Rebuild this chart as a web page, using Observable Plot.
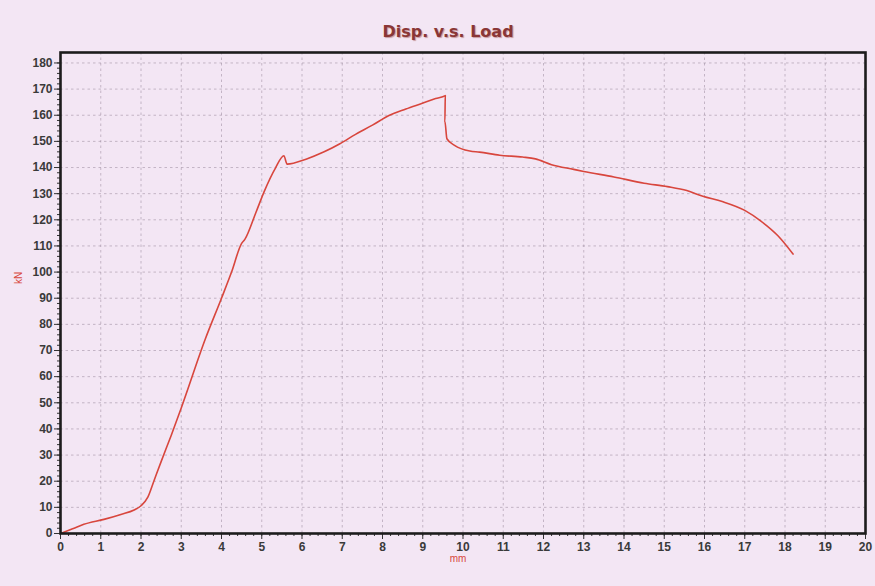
<!DOCTYPE html>
<html>
<head>
<meta charset="utf-8">
<script src="https://cdn.jsdelivr.net/npm/d3@7"></script>
<script src="https://cdn.jsdelivr.net/npm/@observablehq/plot@0.6"></script>
<style>
  html, body { margin: 0; padding: 0; background: #f3e6f4; }
  #wrap { width: 875px; height: 586px; overflow: hidden; background: #f3e6f4; }
  #title { position: relative; height: 46px; }
  #title span {
    position: absolute; left: 448px; top: 22px; transform: translateX(-50%);
    font-family: "DejaVu Sans", sans-serif; font-weight: bold; font-size: 16px;
    color: #8a3636; text-shadow: 1px 1px 1px #c79a9e; white-space: nowrap;
  }
</style>
</head>
<body>
<div id="wrap">
  <div id="title"><span>Disp. v.s. Load</span></div>
  <div id="chart"></div>
</div>
<script>
// Displacement (mm) and load (kN)
const dispMm = [0, 0.3, 0.58, 1.08, 1.5, 1.83, 2.0, 2.17, 2.33, 2.5, 2.75, 3.0, 3.6, 4.0, 4.25, 4.5, 4.58, 4.86, 5.06, 5.34, 5.55, 5.63,
  6.1, 6.55, 6.93, 7.33, 7.75, 8.16, 8.58, 8.99, 9.32, 9.56, 9.55, 9.6, 9.79, 10.17, 10.41, 10.91, 11.48, 11.8, 12.2, 12.75, 13.0,
  13.75, 14.5, 15.08, 15.56, 15.96, 16.44, 17.0, 17.41, 17.83, 18.2];
const loadKN = [0, 1.8, 3.5, 5.4, 7.3, 9.0, 10.6, 13.9, 20.5, 27.5, 37.5, 48.0, 74.5, 90.0, 100.0, 111.0, 112.5, 123.0, 130.8, 139.8, 144.5, 141.3,
  143.2, 146.0, 149.0, 152.7, 156.2, 159.9, 162.4, 164.6, 166.4, 167.5, 157.6, 151.0, 148.5, 146.3, 145.9, 144.7, 144.0, 143.3, 141.1, 139.3, 138.5,
  136.4, 134.0, 132.7, 131.2, 129.0, 127.0, 123.6, 119.4, 113.8, 106.9];

const xTicks = d3.range(0, 21, 1);
const yTicks = d3.range(0, 181, 10);
const xMinor = d3.range(0, 20.01, 0.2).map(v => +v.toFixed(1));
const yMinor = d3.range(0, 181, 2);
const xTitle = "mm";
const yTitle = "kN";

const points = dispMm.map((x, i) => ({x, y: loadKN[i]}));

const curveColor = "#d8463d";
const gridStyle = {stroke: "#9a8a9c", strokeOpacity: 0.6, strokeDasharray: "2.5,3", strokeWidth: 0.9};

const chart = Plot.plot({
  width: 875,
  height: 540,
  marginTop: 6,
  marginBottom: 53,
  marginLeft: 60,
  marginRight: 10,
  style: {background: "transparent", fontFamily: "'Liberation Sans', Arial, sans-serif", fontSize: "12px", color: "#3a3a3a"},
  x: {domain: [0, 20], label: null},
  y: {domain: [0, 184], label: null},
  marks: [
    Plot.gridX(xTicks, gridStyle),
    Plot.gridY(yTicks, gridStyle),
    Plot.axisX({ticks: xMinor, tickSize: 3, tickFormat: () => "", label: null, stroke: "#333"}),
    Plot.axisY({ticks: yMinor, tickSize: 3, tickFormat: () => "", label: null, stroke: "#333"}),
    Plot.axisX({ticks: xTicks, tickSize: 6, tickPadding: 3, label: null, fontWeight: "bold", fontSize: 12, stroke: "#333"}),
    Plot.axisY({ticks: yTicks, tickSize: 6, tickPadding: 2, label: null, fontWeight: "bold", fontSize: 12, stroke: "#333"}),
    Plot.line(points, {x: "x", y: "y", stroke: curveColor, strokeWidth: 1.6, curve: "monotone-x"}),
    Plot.frame({stroke: "#1c1c1c", strokeWidth: 2.6}),
    Plot.text([xTitle], {frameAnchor: "bottom", dy: 28, dx: -5, fill: curveColor, fontSize: 10}),
    Plot.text([yTitle], {frameAnchor: "left", dx: -42, dy: -9, rotate: -90, fill: curveColor, fontSize: 10})
  ]
});
document.getElementById("chart").appendChild(chart);
</script>
</body>
</html>
